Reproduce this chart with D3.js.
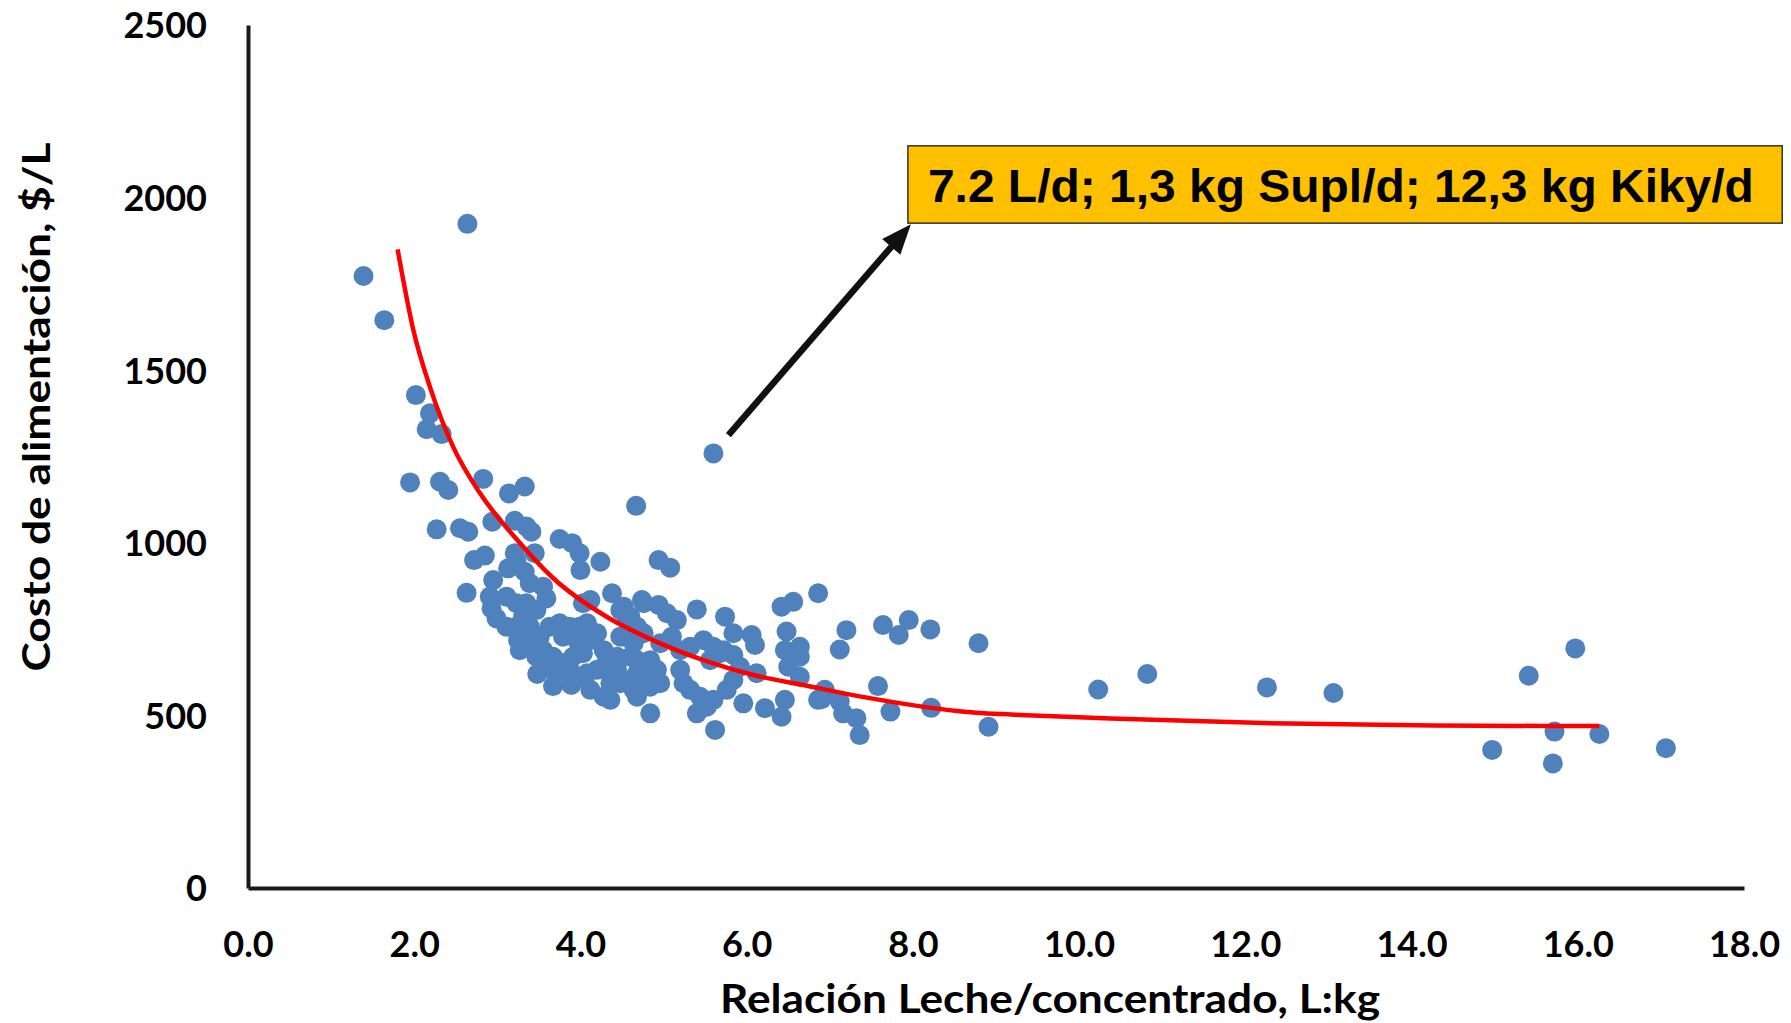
<!DOCTYPE html>
<html>
<head>
<meta charset="utf-8">
<script src="https://cdn.jsdelivr.net/npm/d3@7"></script>
<style>
  html, body { margin: 0; padding: 0; background: #ffffff; }
  svg { display: block; }
</style>
</head>
<body>
<svg id="chart" width="1791" height="1023"></svg>
<script>
// ---------- data ----------
const ratioValues = [
  2.64,1.39,1.64,2.02,2.19,2.15,2.33,1.95,2.31,2.41,2.83,3.14,3.33,4.67,5.60,2.27,2.55,2.65,2.94,3.21,
  3.35,3.41,3.75,3.90,3.99,4.24,4.94,5.08,2.72,2.85,3.21,3.45,3.13,3.33,4.00,2.95,3.23,2.63,3.39,3.55,3.59,
  2.91,2.93,2.99,3.11,3.11,3.23,3.35,3.47,3.31,3.23,3.39,3.25,3.27,3.39,3.51,3.55,3.47,3.63,3.75,3.87,
  3.99,4.08,3.79,3.96,4.12,4.20,3.67,3.79,3.91,4.03,4.28,4.32,4.44,4.44,4.60,4.68,4.72,4.20,4.08,3.96,
  3.87,3.71,3.63,4.36,4.52,4.76,4.03,4.12,4.38,4.48,4.60,4.76,4.68,4.54,4.64,3.48,3.89,4.12,3.67,3.57,
  4.52,4.74,4.94,5.04,5.16,5.10,4.96,4.76,4.56,4.48,5.40,5.74,5.84,6.06,6.10,6.42,6.56,6.86,6.48,6.46,
  6.64,6.64,6.50,6.64,6.12,5.96,6.22,6.42,6.46,6.86,4.32,4.40,4.28,4.36,4.48,4.64,4.68,4.84,4.96,4.84,
  4.68,4.84,4.92,5.20,5.24,5.32,5.20,5.32,5.48,5.60,5.72,5.84,5.92,5.84,5.76,5.60,5.44,5.40,5.52,5.62,
  5.68,5.56,
  7.20,7.12,7.64,7.83,7.95,8.21,8.79,7.58,6.94,6.90,7.12,7.16,7.32,7.36,7.73,8.22,8.91,10.23,10.82,12.26,
  13.06,15.41,15.97,14.97,15.72,15.70,16.26,17.06
];
const costValues = [
  1924,1773,1645,1428,1375,1329,1315,1175,1177,1153,1185,1143,1163,1107,1259,1039,1042,1032,1061,1064,
  1047,1032,1011,999,970,945,950,928,950,963,970,970,926,916,921,892,950,855,883,873,839,
  844,810,781,757,844,825,825,805,786,757,757,718,689,718,728,689,670,757,767,757,
  757,767,728,718,718,738,670,651,670,680,689,660,670,632,670,622,593,632,622,612,
  632,622,651,593,603,612,825,834,854,805,786,825,757,728,709,620,588,574,585,637,
  815,834,820,796,776,728,709,738,776,728,807,786,738,733,704,815,829,854,743,689,
  699,670,641,612,622,535,521,496,545,545,641,660,554,545,593,574,554,583,593,506,
  660,660,632,632,593,574,689,699,718,699,689,675,641,603,574,545,554,506,525,458,
  680,660,
  747,691,762,733,776,749,709,585,574,547,540,506,492,443,511,522,467,575,620,581,
  565,615,694,400,453,361,446,405
];

// trend line
const trendRatio = [1.80,1.99,2.19,2.47,2.79,3.24,3.67,4.32,4.87,5.48,6.08,6.68,7.48,8.65,9.45,10.38,12.32,14.26,16.26];
const trendCost  = [1850,1616,1451,1277,1144,1008,898,785,718,660,617,588,550,510,500,491,477,471,469];

const xTickValues = [0,2,4,6,8,10,12,14,16,18];
const xTickLabels = ["0.0","2.0","4.0","6.0","8.0","10.0","12.0","14.0","16.0","18.0"];
const yTickValues = [0,500,1000,1500,2000,2500];
const yTickLabels = ["0","500","1000","1500","2000","2500"];

const xTitle = "Relación Leche/concentrado, L:kg";
const yTitle = "Costo de alimentación, $/L";
const noteText = "7.2 L/d; 1,3 kg Supl/d; 12,3 kg Kiky/d";
// annotated point and note anchor (data units)
const notePoint = [5.60, 1259];
const arrowFrom = [5.78, 1312];
const noteCorner = [7.94, 1926];
const noteTop = 2150;
const noteRight = 18.46;

// ---------- drawing ----------
const svg = d3.select("#chart");
const x = d3.scaleLinear().domain([0, 18]).range([248, 1744]);
const y = d3.scaleLinear().domain([0, 2500]).range([888, 25]);

const tickFont = "Lato, 'Open Sans', 'Liberation Sans', sans-serif";

// points
const pts = ratioValues.map((v, i) => ({ r: v, c: costValues[i] }));
svg.append("g").selectAll("circle").data(pts).join("circle")
  .attr("cx", d => x(d.r)).attr("cy", d => y(d.c)).attr("r", 10)
  .attr("fill", "#4F81BD");

// trend
const trend = trendRatio.map((v, i) => [v, trendCost[i]]);
svg.append("path").datum(trend)
  .attr("fill", "none").attr("stroke", "#FF0000").attr("stroke-width", 4.5)
  .attr("d", d3.line().x(d => x(d[0])).y(d => y(d[1])).curve(d3.curveMonotoneX));

// axes
const xAxis = d3.axisBottom(x).tickValues(xTickValues)
  .tickFormat((d, i) => xTickLabels[i]).tickSize(0).tickSizeOuter(0);
const gx = svg.append("g").attr("transform", `translate(0,${y(0)})`).call(xAxis);
gx.select(".domain").attr("stroke", "#1a1a1a").attr("stroke-width", 4);
gx.selectAll("text").attr("y", 69).attr("dy", 0)
  .attr("font-family", tickFont).attr("font-weight", 700).attr("font-size", 36).attr("fill", "#000");

const yAxis = d3.axisLeft(y).tickValues(yTickValues)
  .tickFormat((d, i) => yTickLabels[i]).tickSize(0).tickSizeOuter(0);
const gy = svg.append("g").attr("transform", `translate(${x(0)},0)`).call(yAxis);
gy.select(".domain").attr("stroke", "#1a1a1a").attr("stroke-width", 4);
gy.selectAll("text").attr("x", -41).attr("dy", "0.36em")
  .attr("font-family", tickFont).attr("font-weight", 700).attr("font-size", 36).attr("fill", "#000");

// axis titles
svg.append("text").attr("x", 1050).attr("y", 1013).attr("text-anchor", "middle")
  .attr("font-family", tickFont).attr("font-weight", 700).attr("font-size", 40)
  .attr("textLength", 660).attr("lengthAdjust", "spacingAndGlyphs")
  .attr("fill", "#000").text(xTitle);

svg.append("text").attr("transform", "translate(50,407) rotate(-90)").attr("text-anchor", "middle")
  .attr("font-family", tickFont).attr("font-weight", 700).attr("font-size", 38)
  .attr("textLength", 529).attr("lengthAdjust", "spacingAndGlyphs")
  .attr("fill", "#000").text(yTitle);

// annotation box
const bx0 = x(noteCorner[0]), by1 = y(noteCorner[1]), bx1 = x(noteRight), by0 = y(noteTop);
svg.append("rect").attr("x", bx0).attr("y", by0).attr("width", bx1 - bx0).attr("height", by1 - by0)
  .attr("fill", "#FFC000").attr("stroke", "#333").attr("stroke-width", 1.5);
svg.append("text").attr("x", bx0 + 20).attr("y", by0 + 56)
  .attr("font-family", "'Liberation Sans', Arial, sans-serif").attr("font-weight", 700).attr("font-size", 47)
  .attr("textLength", 826).attr("lengthAdjust", "spacingAndGlyphs")
  .attr("fill", "#000").text(noteText);

// arrow
const ax0 = x(arrowFrom[0]), ay0 = y(arrowFrom[1]);
const ax1 = x(noteCorner[0]) + 3, ay1 = y(noteCorner[1]) + 1;
const ang = Math.atan2(ay1 - ay0, ax1 - ax0);
const headLen = 30, headW = 12;
const hbx = ax1 - headLen * Math.cos(ang), hby = ay1 - headLen * Math.sin(ang);
svg.append("line").attr("x1", ax0).attr("y1", ay0)
  .attr("x2", ax1 - (headLen - 4) * Math.cos(ang)).attr("y2", ay1 - (headLen - 4) * Math.sin(ang))
  .attr("stroke", "#111").attr("stroke-width", 6.5);
svg.append("path")
  .attr("d", `M${ax1},${ay1} L${hbx + headW * Math.sin(ang)},${hby - headW * Math.cos(ang)} L${hbx - headW * Math.sin(ang)},${hby + headW * Math.cos(ang)} Z`)
  .attr("fill", "#111");
</script>
</body>
</html>
